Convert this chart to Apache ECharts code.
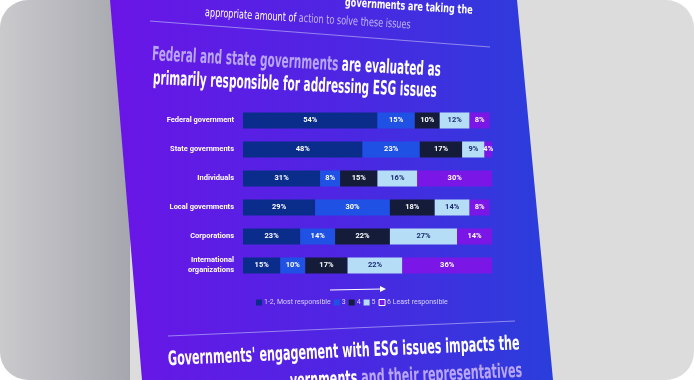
<!DOCTYPE html>
<html><head><meta charset="utf-8">
<script src="https://cdn.jsdelivr.net/npm/echarts@6/dist/echarts.min.js"></script>
<style>html,body{margin:0;padding:0;background:#ffffff;}#c{width:694px;height:380px;border-radius:28px;overflow:hidden;}</style>
</head><body><div id="c"></div>
<script>
const categories = ['Federal government','State governments','Individuals','Local governments','Corporations','International\norganizations'];
const seriesNames = ['1-2, Most responsible','3','4','5','6 Least responsible'];
const s12 = [54,48,31,29,23,15];
const s3  = [15,23,8,30,14,10];
const s4  = [10,17,15,18,22,17];
const s5  = [12,9,16,14,27,22];
const s6  = [8,4,30,8,14,36];
const values = [s12,s3,s4,s5,s6];
const colors = ['#0a2d8c','#1f52e4','#141c3a','#b5def6','#7a16e6'];
const labelColors = ['#ffffff','#ffffff','#ffffff','#1b2b72','#ffffff'];

const chart = echarts.init(document.getElementById('c'));
const COND = '"DejaVu Sans Condensed"';
const series = seriesNames.map((n,i)=>({
  name:n, type:'bar', stack:'t', barWidth:16,
  data: values[i],
  itemStyle:{color:colors[i]},
  label:{show:true, formatter:'{c}%', color:labelColors[i], fontSize:7.5, fontWeight:'bold', fontFamily:'Roboto'},
  z:5
}));
chart.setOption({
  animation:false,
  backgroundColor:'#dcdcdc',
  graphic:[
    {type:'rect', z:-10, shape:{x:0,y:0,width:130,height:380}, style:{fill:{type:'linear',x:0,y:0,x2:1,y2:0,colorStops:[{offset:0,color:'#cacacd'},{offset:1,color:'#a6a6ae'}]}}},
    {type:'polygon', z:-9, shape:{points:[[110,0],[517,0],[553,380],[142,380]]},
     style:{fill:{type:'linear',x:0,y:0,x2:1,y2:0,colorStops:[{offset:0,color:'#6a15e6'},{offset:0.5,color:'#4f25e3'},{offset:1,color:'#2a3edb'}]}}},
    {type:'line', z:-5, shape:{x1:150,y1:21,x2:490,y2:47}, style:{stroke:'#a99cf2',lineWidth:1.2,opacity:0.8}},
    {type:'line', z:-5, shape:{x1:168,y1:336,x2:515,y2:321}, style:{stroke:'#a99cf2',lineWidth:1.2,opacity:0.8}},
    {type:'text', x:345, y:3, rotation:-0.06, scaleX:0.75, style:{text:'governments are taking the', fill:'#ffffff', fontSize:12, fontWeight:'bold', fontFamily:COND, textVerticalAlign:'middle'}},
    {type:'text', x:205, y:13, rotation:-0.06, scaleX:0.75, style:{text:'{w|appropriate amount of} action to solve these issues', fill:'#c2b4f7', fontSize:12, fontFamily:COND, textVerticalAlign:'middle', rich:{w:{fill:'#ffffff', fontSize:12, fontFamily:COND}}}},
    {type:'text', x:152, y:55, rotation:-0.055, scaleX:0.6, style:{text:'{a|Federal and state governments} are evaluated as', fill:'#ffffff', fontSize:19.5, fontWeight:'bold', fontFamily:COND, textVerticalAlign:'middle', rich:{a:{fill:'#b8a5f6', fontSize:19.5, fontWeight:'bold', fontFamily:COND}}}},
    {type:'text', x:153, y:79, rotation:-0.045, scaleX:0.6, style:{text:'primarily responsible for addressing ESG issues', fill:'#ffffff', fontSize:19.5, fontWeight:'bold', fontFamily:COND, textVerticalAlign:'middle'}},
    {type:'line', z:5, shape:{x1:330,y1:290,x2:382,y2:289}, style:{stroke:'#ffffff',lineWidth:1}},
    {type:'polygon', z:5, shape:{points:[[380,286],[386,289],[380,292]]}, style:{fill:'#ffffff'}},
    {type:'text', x:168, y:360, rotation:0.045, scaleX:0.62, style:{text:"Governments' engagement with ESG issues impacts the", fill:'#ffffff', fontSize:20, fontWeight:'bold', fontFamily:COND, textVerticalAlign:'middle'}},
    {type:'text', x:290, y:382, rotation:0.045, scaleX:0.62, style:{text:'{w|vernments} and their representatives', fill:'#b8a5f6', fontSize:20, fontWeight:'bold', fontFamily:COND, textVerticalAlign:'middle', rich:{w:{fill:'#ffffff', fontSize:20, fontWeight:'bold', fontFamily:COND}}}}
  ],
  legend:{
    left:251, top:294, itemWidth:6, itemHeight:6, itemGap:3,
    icon:'rect',
    textStyle:{color:'#d6d2ff', fontSize:7, fontFamily:'Roboto', padding:[0,0,0,-3]},
    data: seriesNames.map((n,i)=> i===4 ? {name:n, itemStyle:{borderColor:'#ffffff', borderWidth:1}} : {name:n})
  },
  grid:{left:243, right:202, top:106, bottom:100},
  xAxis:{type:'value', min:0, max:100, show:false},
  yAxis:{type:'category', data:categories, inverse:true,
    axisLine:{show:false}, axisTick:{show:false},
    axisLabel:{color:'#ffffff', fontSize:7.5, fontWeight:'bold', fontFamily:'Roboto', margin:9, lineHeight:10}},
  series: series
});
</script></body></html>
